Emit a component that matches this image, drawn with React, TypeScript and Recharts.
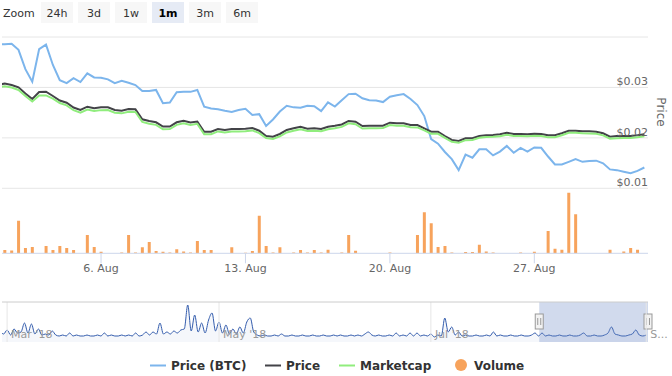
import React from 'react'
import {
  ComposedChart,
  Line,
  Bar,
  Area,
  XAxis,
  YAxis,
  CartesianGrid,
  ReferenceLine,
  ReferenceArea,
} from 'recharts'

const HOUR = 3600 * 1000

// 8-hourly points; the first one sits just left of the visible range
const firstPoint = Date.UTC(2018, 7, 1, 0)
const pointStep = 8 * HOUR

const viewStart = Date.UTC(2018, 7, 1, 4, 48)
const viewEnd = Date.UTC(2018, 8, 1, 12, 14)

// Price (BTC), in satoshi
const priceBtcSats = [
  480, 481, 482, 466, 415, 382, 468, 480, 426, 386,
  378, 391, 381, 404, 393, 392, 388, 378, 384, 379,
  373, 357, 357, 360, 325, 327, 354, 355, 355, 360,
  316, 311, 309, 305, 302, 307, 310, 294, 296, 265,
  282, 303, 318, 314, 313, 318, 317, 304, 327, 316,
  333, 349, 350, 338, 333, 332, 328, 342, 346, 349,
  336, 320, 291, 230, 218, 196, 177, 148, 189, 181,
  203, 203, 187, 197, 212, 194, 207, 197, 208, 207,
  184, 163, 163, 170, 177, 170, 172, 173, 166, 150,
  148, 144, 140, 146, 155,
]

// Price, USD
const priceUsd = [
  0.03048, 0.03078, 0.03048, 0.03003, 0.0288, 0.02771, 0.0291, 0.02916, 0.0283, 0.02741,
  0.02697, 0.02602, 0.02553, 0.02618, 0.02586, 0.02606, 0.02606, 0.02553, 0.02539, 0.02572,
  0.02566, 0.02368, 0.02335, 0.02309, 0.02225, 0.02225, 0.02309, 0.0234, 0.02305, 0.02325,
  0.02122, 0.02122, 0.02176, 0.02156, 0.02176, 0.02176, 0.02182, 0.02196, 0.02142, 0.02037,
  0.02023, 0.02077, 0.02156, 0.0219, 0.02221, 0.02182, 0.0219, 0.02176, 0.02221, 0.02241,
  0.02265, 0.02335, 0.02321, 0.02235, 0.02241, 0.02241, 0.02241, 0.02301, 0.02289, 0.02289,
  0.02255, 0.02255, 0.0219, 0.02122, 0.02122, 0.02037, 0.01958, 0.01938, 0.01992, 0.01992,
  0.02037, 0.02051, 0.02057, 0.02071, 0.02102, 0.02077, 0.02077, 0.02071, 0.02083, 0.02077,
  0.02051, 0.02051, 0.02091, 0.02142, 0.02142, 0.0213, 0.0213, 0.02122, 0.02091, 0.02023,
  0.02037, 0.02037, 0.02037, 0.02051, 0.02071,
]

// Marketcap, million USD
const marketcapM = [
  29.95, 30.25, 29.98, 29.5, 28.32, 27.2, 28.4, 28.42, 27.78, 26.9,
  26.45, 25.48, 24.98, 25.62, 25.32, 25.5, 25.52, 25.0, 24.86, 25.18,
  25.12, 23.15, 22.8, 22.58, 21.72, 21.75, 22.58, 22.9, 22.55, 22.78,
  20.7, 20.72, 21.28, 21.08, 21.25, 21.28, 21.32, 21.48, 20.95, 19.95,
  19.8, 20.32, 21.08, 21.42, 21.72, 21.35, 21.42, 21.3, 21.72, 21.92,
  22.18, 22.88, 22.72, 21.85, 21.92, 21.92, 21.95, 22.55, 22.42, 22.42,
  22.1, 22.08, 21.48, 20.82, 20.8, 19.98, 19.22, 19.02, 19.55, 19.58,
  20.02, 20.15, 20.2, 20.32, 20.6, 20.38, 20.36, 20.3, 20.42, 20.38,
  20.1, 20.12, 20.52, 21.0, 21.02, 20.9, 20.88, 20.8, 20.5, 19.85,
  19.92, 19.95, 19.98, 20.1, 20.3,
]

// Volume, USD
const volumeUsd = [
  0, 3300, 2700, 32500, 5200, 6200, 0, 7300, 3300, 7300,
  5200, 3300, 0, 18300, 6200, 1500, 0, 0, 700, 18300,
  700, 6000, 11300, 2300, 1500, 700, 4000, 1700, 700, 12300,
  3300, 3300, 0, 0, 6000, 0, 500, 2300, 37500, 7300,
  700, 6000, 0, 700, 3300, 700, 3300, 700, 3500, 0,
  700, 18300, 2500, 0, 0, 0, 0, 700, 0, 0,
  0, 18300, 41000, 30000, 6200, 7300, 700, 0, 1300, 1300,
  8500, 1800, 700, 0, 0, 0, 700, 0, 1500, 0,
  22300, 4500, 3500, 60500, 39000, 0, 0, 0, 0, 3500,
  0, 1800, 5300, 3500, 0,
]

const dayTicks = [Date.UTC(2018, 7, 6), Date.UTC(2018, 7, 13), Date.UTC(2018, 7, 20), Date.UTC(2018, 7, 27)]
const monthNames = ['Jan', 'Feb', 'Mar', 'Apr', 'May', 'Jun', 'Jul', 'Aug', 'Sep', 'Oct', 'Nov', 'Dec']
const priceTicks = [0.01, 0.02, 0.03, 0.04]

// navigator: daily volume from 27 Feb (day -2 from 1 Mar), scaled units
const navFirstDay = -2
const navigatorVolume = [
  7, 4, 8, 3, 9, 5, 6, 15, 5, 14,
  4, 9, 3, 4, 3, 7, 3, 2, 3, 2,
  5, 2, 3, 2, 2, 3, 2, 2, 3, 2,
  5, 2, 3, 2, 2, 3, 2, 3, 2, 5,
  2, 3, 6, 3, 6, 4, 15, 4, 6, 4,
  7, 5, 8, 9, 33, 7, 23, 6, 15, 5,
  18, 25, 7, 16, 5, 13, 4, 9, 4, 11,
  5, 16, 20, 6, 3, 2, 3, 2, 2, 3,
  2, 4, 2, 2, 3, 2, 2, 3, 2, 2,
  3, 2, 2, 3, 2, 2, 3, 2, 3, 2,
  2, 3, 2, 3, 2, 4, 6, 3, 2, 3,
  2, 2, 3, 2, 5, 2, 3, 2, 5, 2,
  5, 2, 3, 2, 4, 1, 3, 2, 20, 6,
  11, 3, 6, 2, 3, 2, 2, 3, 2, 2,
  3, 2, 6, 2, 3, 2, 2, 3, 2, 2,
  3, 2, 2, 3, 5, 2, 5, 2, 3, 2,
  2, 3, 2, 2, 3, 2, 2, 3, 5, 2,
  2, 3, 2, 2, 3, 5, 11, 4, 3, 2,
  2, 3, 4, 8, 3, 2, 3,
]
const navStart = Date.UTC(2018, 1, 27, 12, 36)
const navEnd = viewEnd
const navMonthTicks = [Date.UTC(2018, 2, 1), Date.UTC(2018, 4, 1), Date.UTC(2018, 6, 1), Date.UTC(2018, 8, 1)]
const navMonthLabels = ["Mar '18", "May '18", "Jul '18", 'S...']

const rangeButtons = ['24h', '3d', '1w', '1m', '3m', '6m']
const selectedRange = 3

const legendItems = [
  { name: 'Price (BTC)', color: '#7cb5ec', symbol: 'line', x: 150 },
  { name: 'Price', color: '#434348', symbol: 'line', x: 265 },
  { name: 'Marketcap', color: '#90ed7d', symbol: 'line', x: 339 },
  { name: 'Volume', color: '#f7a35c', symbol: 'circle', x: 455 },
]

const rows = priceUsd.map((p, i) => ({
  t: firstPoint + i * pointStep,
  btc: priceBtcSats[i],
  price: p,
  mcap: marketcapM[i],
  volume: volumeUsd[i],
}))

const navRows = navigatorVolume.map((v, i) => ({
  t: Date.UTC(2018, 2, 1 + navFirstDay + i),
  v,
}))

const PriceTick = (props: any) => {
  const { y, payload } = props
  if (payload.value >= 0.04) return <g />
  return (
    <text x={648} y={y - 2} textAnchor="end" fontSize={11} fill="#666666">
      {'$' + payload.value.toFixed(2)}
    </text>
  )
}

const formatDay = (t: number) => {
  const d = new Date(t)
  return `${d.getUTCDate()}. ${monthNames[d.getUTCMonth()]}`
}

const NavigatorMask = ({ x, y, width, height }: any) => {
  const cy = y + height / 2
  const handle = (hx: number) => (
    <g>
      <rect x={hx - 4} y={cy - 8} width={8} height={15} fill="#f2f2f2" stroke="#999999" />
      <line x1={hx - 1.5} y1={cy - 4} x2={hx - 1.5} y2={cy + 3} stroke="#999999" />
      <line x1={hx + 1.5} y1={cy - 4} x2={hx + 1.5} y2={cy + 3} stroke="#999999" />
    </g>
  )
  return (
    <g>
      <rect x={x} y={y} width={width} height={height} fill="rgba(102,133,194,0.3)" />
      {handle(x)}
      {handle(x + width)}
    </g>
  )
}

const W = 672
const H = 376

export default function App() {
  return (
    <div
      style={{
        position: 'absolute',
        left: 0,
        top: 0,
        width: W,
        height: H,
        background: '#fff',
        fontFamily: "'DejaVu Sans', sans-serif",
      }}
    >
      {/* price pane */}
      <div style={{ position: 'absolute', left: 0, top: 0 }}>
        <ComposedChart width={W} height={H} data={rows} margin={{ top: 37, right: 24, bottom: 187.7, left: 2 }}>
          <XAxis dataKey="t" type="number" domain={[viewStart, viewEnd]} allowDataOverflow hide />
          <YAxis
            yAxisId="price"
            orientation="right"
            mirror
            domain={[0.01, 0.04]}
            ticks={priceTicks}
            interval={0}
            axisLine={false}
            tickLine={false}
            tick={<PriceTick />}
            allowDataOverflow
          />
          <YAxis yAxisId="btc" hide domain={[100, 500]} allowDataOverflow />
          <YAxis yAxisId="mcap" hide domain={[10, 40]} allowDataOverflow />
          <CartesianGrid yAxisId="price" vertical={false} stroke="#e6e6e6" />
          <Line yAxisId="btc" dataKey="btc" stroke="#7cb5ec" strokeWidth={2} dot={false} isAnimationActive={false} />
          <Line yAxisId="price" dataKey="price" stroke="#434348" strokeWidth={2} dot={false} isAnimationActive={false} />
          <Line yAxisId="mcap" dataKey="mcap" stroke="#90ed7d" strokeWidth={2} dot={false} isAnimationActive={false} />
        </ComposedChart>
      </div>

      {/* volume pane */}
      <div style={{ position: 'absolute', left: 0, top: 0 }}>
        <ComposedChart width={W} height={H} data={rows} margin={{ top: 188, right: 24, bottom: 92.7, left: 2 }}>
          <XAxis
            dataKey="t"
            type="number"
            domain={[viewStart, viewEnd]}
            allowDataOverflow
            ticks={dayTicks}
            tickFormatter={formatDay}
            height={30}
            tickSize={10}
            tickMargin={1}
            stroke="#ccd6eb"
            tick={{ fill: '#666666', fontSize: 11 }}
          />
          <YAxis yAxisId="vol" hide domain={[0, 65300]} />
          <Bar yAxisId="vol" dataKey="volume" fill="#f7a35c" barSize={3} isAnimationActive={false} />
        </ComposedChart>
      </div>

      {/* navigator */}
      <div style={{ position: 'absolute', left: 0, top: 0 }}>
        <ComposedChart width={W} height={H} data={navRows} margin={{ top: 302, right: 24, bottom: 34, left: 2 }}>
          <XAxis dataKey="t" type="number" domain={[navStart, navEnd]} allowDataOverflow hide />
          <YAxis hide domain={[-4, 36]} />
          {navMonthTicks.map((t, i) => (
            <ReferenceLine
              key={t}
              x={t}
              stroke="#e6e6e6"
              label={{ value: navMonthLabels[i], position: 'insideBottomLeft', offset: 4, fill: '#999999', fontSize: 11 }}
            />
          ))}
          <Area
            type="monotone"
            dataKey="v"
            stroke="#335cad"
            strokeWidth={1}
            fill="#335cad"
            fillOpacity={0.05}
            baseValue="dataMin"
            isAnimationActive={false}
          />
          <ReferenceArea x1={viewStart} x2={viewEnd} shape={NavigatorMask} />
        </ComposedChart>
      </div>

      {/* range selector, axis title, legend */}
      <svg width={W} height={H} style={{ position: 'absolute', left: 0, top: 0, pointerEvents: 'none' }}>
        <text x={3} y={17} fontSize={11} fill="#333333">
          Zoom
        </text>
        {rangeButtons.map((b, i) => {
          const bx = 41 + i * 37
          const sel = i === selectedRange
          return (
            <g key={b}>
              <rect x={bx} y={2} width={32} height={21} fill={sel ? '#e6ebf5' : '#f7f7f7'} />
              <text
                x={bx + 16}
                y={17}
                textAnchor="middle"
                fontSize={11}
                fontWeight={sel ? 'bold' : 'normal'}
                fill={sel ? '#000000' : '#333333'}
              >
                {b}
              </text>
            </g>
          )
        })}

        <text x={657} y={112} transform="rotate(90 657 112)" textAnchor="middle" fontSize={12} fill="#666666">
          Price
        </text>

        <line x1={2} y1={302} x2={648} y2={302} stroke="#cccccc" />

        {legendItems.map((it) => (
          <g key={it.name}>
            {it.symbol === 'line' ? (
              <line x1={it.x} y1={365.5} x2={it.x + 16} y2={365.5} stroke={it.color} strokeWidth={2} />
            ) : (
              <circle cx={it.x + 6} cy={365} r={6} fill={it.color} />
            )}
            <text x={it.x + (it.symbol === 'line' ? 21 : 19)} y={369.5} fontSize={12} fontWeight="bold" fill="#333333">
              {it.name}
            </text>
          </g>
        ))}
      </svg>
    </div>
  )
}
